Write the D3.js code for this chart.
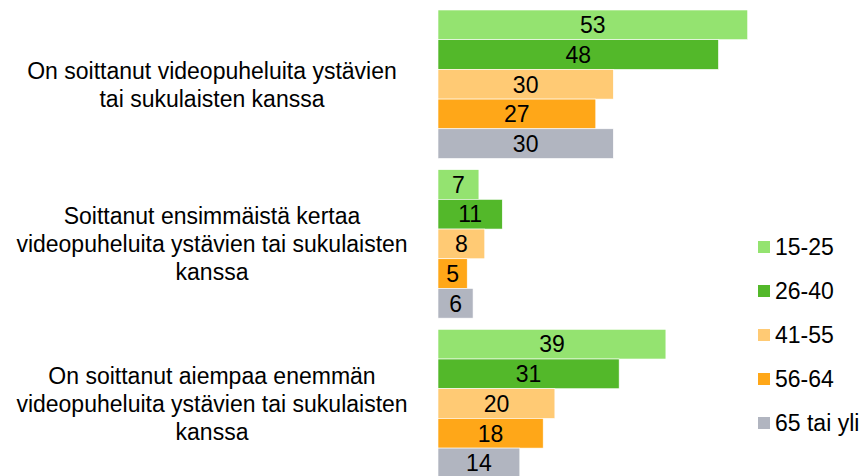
<!DOCTYPE html>
<html>
  <head>
    <script src="https://d3js.org/d3.v7.min.js"></script>
    <style>
      body {margin: 0; background: #fff;}
      text {font-family: "Liberation Sans", Arial, sans-serif; fill: #000;}
    </style>
  </head>
  <body>
    <svg id="chart" width="863" height="476">
      <g id="labels"/>
      <g id="bars"/>
      <g id="legend"/>
    </svg>
  </body>
  <script>
      let width = 863, height = 476;

      // category labels, already split into lines
      let categories = ["q1", "q2", "q3"];
      let categoryLines = [
          ["On soittanut videopuheluita ystävien", "tai sukulaisten kanssa"],
          ["Soittanut ensimmäistä kertaa", "videopuheluita ystävien tai sukulaisten", "kanssa"],
          ["On soittanut aiempaa enemmän", "videopuheluita ystävien tai sukulaisten", "kanssa"]
      ];
      let ageGroups = ["15-25", "26-40", "41-55", "56-64", "65 tai yli"];
      let colors = ["#94e370", "#53b82a", "#ffca74", "#ffa718", "#b1b5c0"];
      let v1525 = [53, 7, 39];
      let v2640 = [48, 11, 31];
      let v4155 = [30, 8, 20];
      let v5664 = [27, 5, 18];
      let v65 = [30, 6, 14];
      let series = [v1525, v2640, v4155, v5664, v65];

      let y0 = d3.scaleBand().domain(categories).range([10, 477.8]).paddingInner(0.07).paddingOuter(0);
      let y1 = d3.scaleBand().domain(ageGroups).range([0, y0.bandwidth()]);
      let x = d3.scaleLinear().domain([0, 53]).range([438, 747.7]);
      let color = d3.scaleOrdinal().domain(ageGroups).range(colors);

      let rows = [];
      categories.forEach((c, i) => {
          ageGroups.forEach((a, j) => {
              rows.push({cat: c, age: a, value: series[j][i]});
          });
      });

      let bars = d3.select("#bars").selectAll("g.bar").data(rows).enter()
          .append("g").attr("class", "bar")
          .attr("transform", d => `translate(0,${y0(d.cat) + y1(d.age)})`);

      bars.append("rect")
          .attr("x", x(0))
          .attr("width", d => x(d.value) - x(0))
          .attr("height", y1.bandwidth())
          .attr("fill", d => color(d.age))
          .attr("stroke", "#fff").attr("stroke-width", 0.6);

      bars.append("text")
          .attr("x", d => (x(0) + x(d.value)) / 2)
          .attr("y", y1.bandwidth() / 2)
          .attr("dy", "0.36em")
          .attr("text-anchor", "middle")
          .attr("font-size", 23)
          .text(d => d.value);

      // category labels on the left
      let lineGap = 28;
      let lab = d3.select("#labels").selectAll("text").data(categories).enter()
          .append("text")
          .attr("text-anchor", "middle")
          .attr("font-size", 23);
      lab.each(function(c, i) {
          let lines = categoryLines[i];
          let cy = y0(c) + y0.bandwidth() / 2;
          let start = cy - (lines.length - 1) * lineGap / 2;
          d3.select(this).selectAll("tspan").data(lines).enter()
              .append("tspan")
              .attr("x", 212)
              .attr("y", (d, k) => start + k * lineGap)
              .attr("dy", "0.36em")
              .text(d => d);
      });

      // legend
      let ly = d3.scalePoint().domain(ageGroups).range([247, 423]);
      let leg = d3.select("#legend").selectAll("g").data(ageGroups).enter()
          .append("g").attr("transform", d => `translate(758,${ly(d)})`);
      leg.append("rect").attr("x", 0).attr("y", -6).attr("width", 12).attr("height", 12)
          .attr("fill", d => color(d));
      leg.append("text").attr("x", 17).attr("dy", "0.36em").attr("font-size", 23).text(d => d);
  </script>
</html>
